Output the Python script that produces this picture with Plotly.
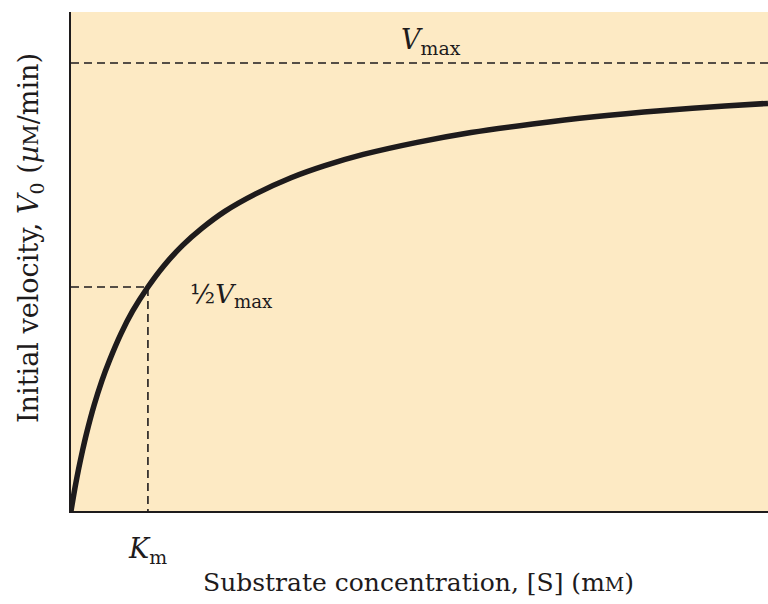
import plotly.graph_objects as go

# Values (S in mM, V0 in µM/min); Km = 10, Vmax = 100
S = [0, 0.5, 1, 1.5, 2, 3, 4, 5, 6.5, 8, 10, 12, 14.5, 17, 20, 24, 28.6, 33, 38, 45, 52, 60, 68, 77, 85, 90.6]
V = [0, 5.0, 9.5, 13.5, 17.2, 23.6, 29.0, 33.6, 39.6, 44.6, 50, 54.6, 59.3, 63.1, 66.9, 70.8, 74.4, 77.1, 79.6, 82.3, 84.5, 86.4, 88, 89.4, 90.4, 91.0]
KM = 10
VMAX = 100
X_MAX = 90.6
Y_MAX = 111.4

FONT = "DejaVu Serif"
INK = "#1e1b1c"
BG = "#fdeac4"

fig = go.Figure()
fig.add_trace(go.Scatter(x=S, y=V, mode="lines", line=dict(color=INK, width=5.5, shape="spline", smoothing=0.8),
                         hoverinfo="skip", showlegend=False))
# dashed guides
fig.add_trace(go.Scatter(x=[0, X_MAX], y=[VMAX, VMAX], mode="lines",
                         line=dict(color=INK, width=1.6, dash="8px,5px"), showlegend=False))
fig.add_trace(go.Scatter(x=[0, KM, KM], y=[VMAX / 2, VMAX / 2, 0], mode="lines",
                         line=dict(color=INK, width=1.6, dash="8px,5px"), showlegend=False))

ann = [
    dict(x=46.8, y=VMAX, xref="x", yref="y", yshift=22,
         text="<i>V</i><sub>max</sub>", showarrow=False, font=dict(family=FONT, size=27, color=INK)),
    dict(x=KM, y=VMAX / 2, xref="x", yref="y", xanchor="left", xshift=40, yshift=-8,
         text="½<i>V</i><sub>max</sub>", showarrow=False, font=dict(family=FONT, size=26, color=INK)),
    dict(x=KM, y=0, xref="x", yref="y", yanchor="top", yshift=-20,
         text="<i>K</i><sub>m</sub>", showarrow=False, font=dict(family=FONT, size=27, color=INK)),
    dict(x=0.499, y=0, xref="paper", yref="paper", yanchor="middle", yshift=-71,
         text="Substrate concentration, [S] (m<span style='font-size:19px'>M</span>)",
         showarrow=False, font=dict(family=FONT, size=25, color=INK)),
    dict(x=0, y=0.547, xref="paper", yref="paper", xanchor="center", xshift=-41, textangle=-90,
         text="Initial velocity, <i>V</i><sub>0</sub> (<i>µ</i><span style='font-size:21px'>M</span>/min)",
         showarrow=False, font=dict(family=FONT, size=27, color=INK)),
]

fig.update_layout(
    width=768, height=604,
    margin=dict(l=71, r=0, t=12, b=93),
    paper_bgcolor="white", plot_bgcolor=BG,
    showlegend=False,
    annotations=ann,
    xaxis=dict(range=[0, X_MAX], showgrid=False, zeroline=False, showticklabels=False, ticks="",
               showline=True, linecolor=INK, linewidth=2, fixedrange=True),
    yaxis=dict(range=[0, Y_MAX], showgrid=False, zeroline=False, showticklabels=False, ticks="",
               showline=True, linecolor=INK, linewidth=2, fixedrange=True),
)
fig.write_html("out.html", config={"displayModeBar": False},
               post_script="document.body.style.margin='0';document.body.style.padding='0';")
